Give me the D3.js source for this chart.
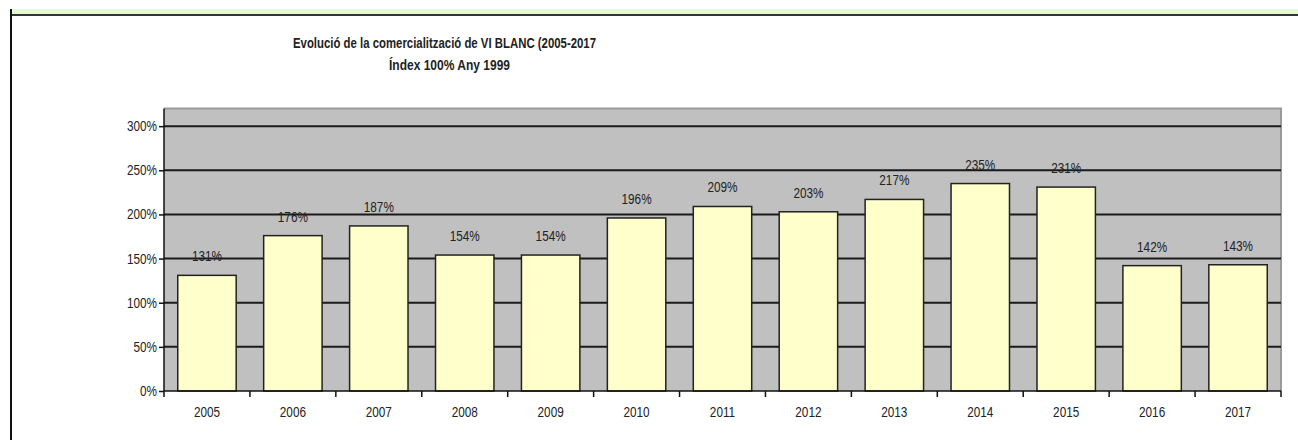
<!DOCTYPE html>
<html>
<head>
<meta charset="utf-8">
<script src="https://cdnjs.cloudflare.com/ajax/libs/d3/7.8.5/d3.min.js"></script>
<style>
  body { margin: 0; background: #fff; }
  text { font-family: "Liberation Sans Narrow", "Arial Narrow", "Liberation Sans", sans-serif; fill: #222; }
</style>
</head>
<body>
<svg width="1298" height="440"></svg>
<script>
// data
var years = ['2005', '2006', '2007', '2008', '2009', '2010', '2011', '2012', '2013', '2014', '2015', '2016', '2017'];
var values = [131, 176, 187, 154, 154, 196, 209, 203, 217, 235, 231, 142, 143];
var yTicks = [0, 50, 100, 150, 200, 250, 300];
var titleLines = ['Evolució de la comercialització de VI BLANC (2005-2017', 'Índex 100% Any 1999'];

var svg = d3.select('svg');

// plot area
var plotLeft = 164, plotRight = 1281, plotTop = 108.5, plotBottom = 391;

// squeeze a text like a narrow font
function narrow(sel) {
    sel.each(function () {
        var w = this.getComputedTextLength();
        d3.select(this).attr('textLength', w * 0.84).attr('lengthAdjust', 'spacingAndGlyphs');
    });
}

// page frame: green band and dark lines
svg.append('rect').attr('x', 12).attr('y', 9).attr('width', 1298).attr('height', 5).attr('fill', '#e2fbd0');
svg.append('rect').attr('x', 10).attr('y', 14).attr('width', 1298).attr('height', 2).attr('fill', '#333');
svg.append('rect').attr('x', 10).attr('y', 9).attr('width', 2).attr('height', 440).attr('fill', '#111');

// title
svg.selectAll('.title')
    .data(titleLines)
    .enter()
    .append('text')
    .attr('class', 'title')
    .attr('x', function (d, i) { return i == 0 ? 444.5 : 449.5; })
    .attr('y', function (d, i) { return i == 0 ? 48 : 69.5; })
    .attr('text-anchor', 'middle')
    .attr('textLength', function (d, i) { return i == 0 ? 303 : 121; })
    .attr('lengthAdjust', 'spacingAndGlyphs')
    .style('font-size', '14px')
    .style('font-weight', 'bold')
    .text(function (d) { return d; });

//create x-scale
var xscale = d3.scaleBand()
    .domain(years)
    .range([plotLeft, plotRight])
    .paddingInner(0.32)
    .paddingOuter(0.16);

//create y-scale
var yscale = d3.scaleLinear()
    .domain([0, 320])
    .range([plotBottom, plotTop]);

// plot background
svg.append('rect')
    .attr('x', plotLeft)
    .attr('y', plotTop)
    .attr('width', plotRight - plotLeft)
    .attr('height', plotBottom - plotTop)
    .attr('fill', '#c0c0c0');

// top and right border
svg.append('path')
    .attr('d', 'M' + plotLeft + ',' + plotTop + 'H' + plotRight + 'V' + plotBottom)
    .attr('fill', 'none')
    .attr('stroke', '#9a9a9a')
    .attr('stroke-width', 2);

// gridlines
svg.selectAll('.grid')
    .data(yTicks.slice(1))
    .enter()
    .append('line')
    .attr('x1', plotLeft)
    .attr('x2', plotRight)
    .attr('y1', function (d) { return yscale(d); })
    .attr('y2', function (d) { return yscale(d); })
    .attr('stroke', '#1a1a1a')
    .attr('stroke-width', 2);

// bars
svg.selectAll('.bar')
    .data(values)
    .enter()
    .append('rect')
    .attr('x', function (d, i) { return xscale(years[i]); })
    .attr('y', function (d) { return yscale(d); })
    .attr('width', xscale.bandwidth())
    .attr('height', function (d) { return plotBottom - yscale(d); })
    .attr('fill', '#ffffcc')
    .attr('stroke', '#222')
    .attr('stroke-width', 1.5);

// value labels
svg.selectAll('.val')
    .data(values)
    .enter()
    .append('text')
    .attr('x', function (d, i) { return xscale(years[i]) + xscale.bandwidth() / 2; })
    .attr('y', function (d) { return yscale(d) - 14; })
    .attr('text-anchor', 'middle')
    .style('font-size', '14px')
    .text(function (d) { return d + '%'; })
    .call(narrow);

//create y-axis
var y_axis = d3.axisLeft()
    .scale(yscale)
    .tickValues(yTicks)
    .tickSize(5)
    .tickPadding(2)
    .tickFormat(function (d) { return d + '%'; });

var gy = svg.append('g')
    .attr('transform', 'translate(' + plotLeft + ',0)')
    .call(y_axis);
gy.select('.domain').attr('d', 'M0,' + plotTop + 'V' + plotBottom).attr('stroke', '#111').attr('stroke-width', 1.5);
gy.selectAll('.tick line').attr('stroke', '#111').attr('stroke-width', 1.5);
gy.selectAll('text')
    .style('font-size', '14px')
    .attr('fill', '#222')
    .style('font-family', null)
    .call(narrow);

// x axis line and ticks at category boundaries
var step = xscale.step();
var edges = d3.range(years.length + 1).map(function (i) { return plotLeft + i * step; });
svg.append('line')
    .attr('x1', plotLeft).attr('x2', plotRight)
    .attr('y1', plotBottom).attr('y2', plotBottom)
    .attr('stroke', '#111').attr('stroke-width', 1.5);
svg.selectAll('.xtick')
    .data(edges)
    .enter()
    .append('line')
    .attr('x1', function (d) { return d; })
    .attr('x2', function (d) { return d; })
    .attr('y1', plotBottom)
    .attr('y2', plotBottom + 6)
    .attr('stroke', '#111')
    .attr('stroke-width', 1.5);

// year labels
svg.selectAll('.year')
    .data(years)
    .enter()
    .append('text')
    .attr('x', function (d) { return xscale(d) + xscale.bandwidth() / 2; })
    .attr('y', 417)
    .attr('text-anchor', 'middle')
    .style('font-size', '14px')
    .text(function (d) { return d; })
    .call(narrow);
</script>
</body>
</html>
